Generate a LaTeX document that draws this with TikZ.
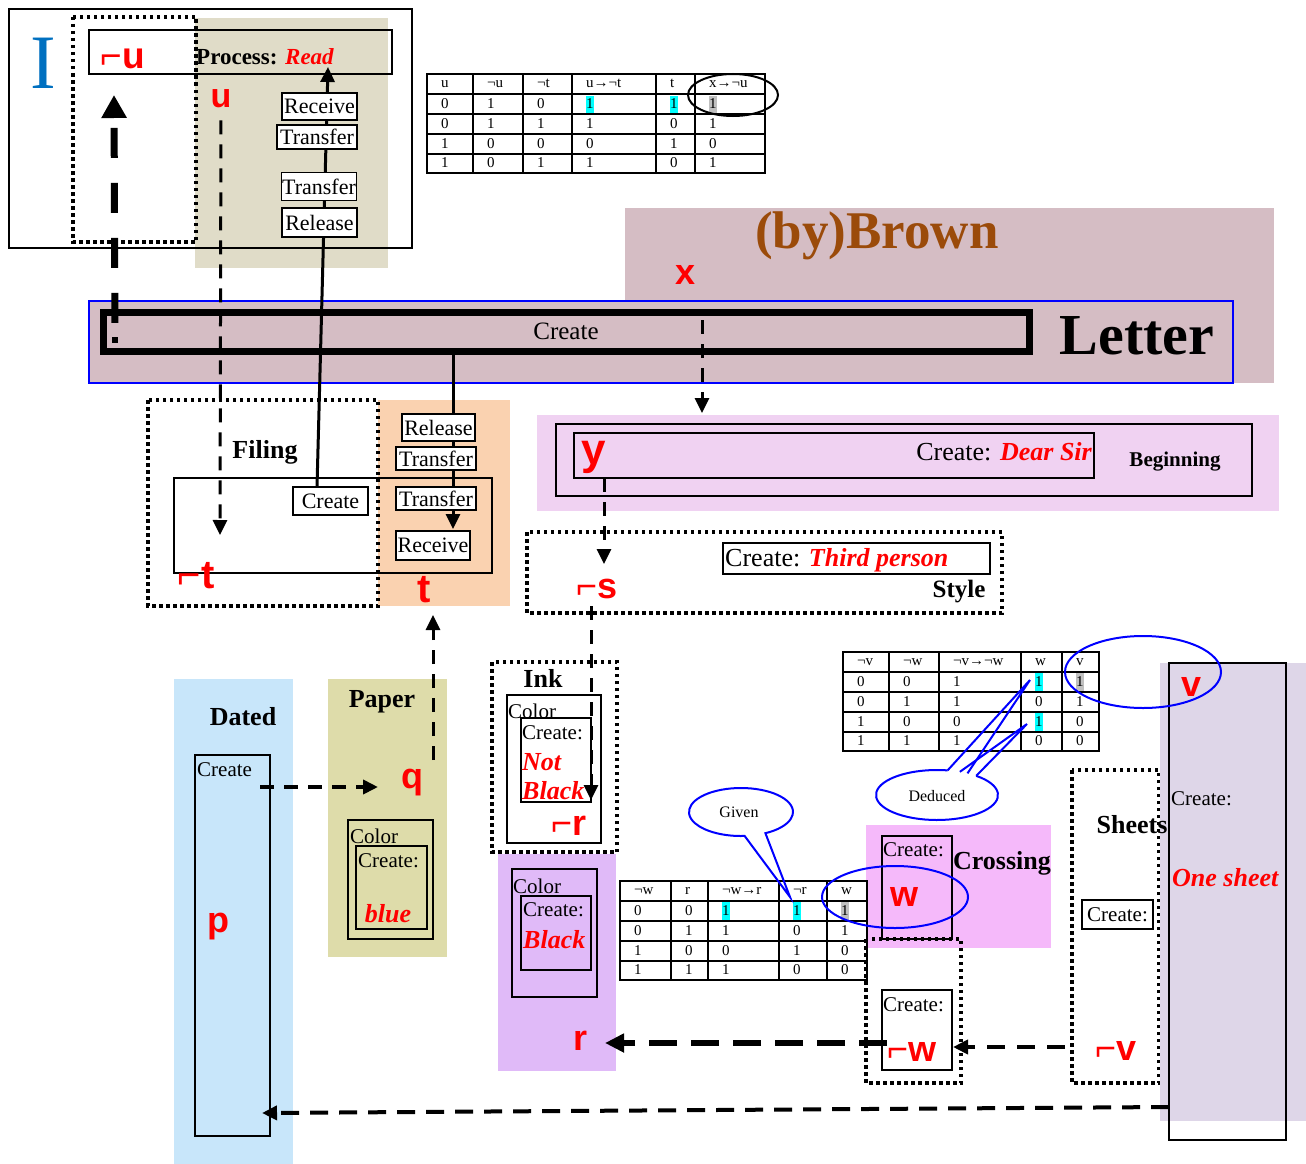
\documentclass[tikz,border=0pt]{standalone}
\usepackage{fontspec}
\setmainfont{Liberation Serif}
\newfontfamily\labfont{Liberation Sans}
\usetikzlibrary{arrows.meta,calc}
\pgfdeclarelayer{back}
\pgfdeclarelayer{wires}
\pgfsetlayers{back,wires,main}
\definecolor{tanbg}{RGB}{224,220,200}
\definecolor{brownbg}{RGB}{213,189,196}
\definecolor{peachbg}{RGB}{250,210,176}
\definecolor{pinkbg}{RGB}{240,210,242}
\definecolor{skybg}{RGB}{200,230,250}
\definecolor{paperbg}{RGB}{222,220,170}
\definecolor{purplebg}{RGB}{224,186,248}
\definecolor{crossbg}{RGB}{245,185,250}
\definecolor{lavbg}{RGB}{222,214,232}
\definecolor{iblue}{RGB}{0,112,192}
\definecolor{byc}{RGB}{155,75,10}
\definecolor{hcyan}{RGB}{0,255,255}
\definecolor{hgray}{RGB}{192,192,192}
\newcommand{\fsz}[1]{\fontsize{#1}{#1}\selectfont}
\tikzset{box/.style={draw, line width=1.6pt, fill=white, inner sep=0pt, font=\fsz{22}},
  frm/.style={draw, line width=1.6pt, inner sep=0pt},
  lbl/.style={text=red, inner sep=0pt, font=\labfont\bfseries\fsz{#1}}, lbl/.default=36,
  ttl/.style={inner sep=0pt, font=\bfseries\fsz{#1}}, ttl/.default=26,
  txt/.style={inner sep=0pt, anchor=west, font=\fsz{21}},
  redit/.style={text=red, inner sep=0pt, anchor=west, font=\bfseries\itshape\fsz{26}},
  dotbox/.style={draw, line width=3.5pt, dash pattern=on 3.5pt off 3.5pt},
  dasharr/.style={line width=3pt, dash pattern=on 14pt off 10pt, -{Triangle[length=15pt,width=14pt]}},
  bigdash/.style={line width=7pt, dash pattern=on 30pt off 25pt, -{Triangle[length=23pt,width=24pt]}},
  solarr/.style={line width=3pt, -{Triangle[length=15pt,width=14pt]}},
  tabline/.style={line width=2.2pt},
  cell/.style={anchor=west, inner sep=0pt, font=\fsz{15}},
  bluering/.style={draw=blue, line width=2pt}}

\begin{document}
\begin{tikzpicture}[x=1pt,y=-1pt]
\useasboundingbox (0,0) rectangle (1306,1164);

\begin{pgfonlayer}{back}
\fill[tanbg] (195,18) rectangle (388,268);
\fill[brownbg] (625,208) rectangle (1274,383);
\node[draw=blue, line width=1.5pt, fill=brownbg, minimum width=1144, minimum height=82] (letterbox) at (661,342) {};
\fill[peachbg] (378,400) rectangle (510,606);
\fill[pinkbg] (537,415) rectangle (1279,511);
\fill[skybg] (174,679) rectangle (293,1164);
\fill[paperbg] (328,679) rectangle (447,957);
\fill[purplebg] (498,854) rectangle (616,1071);
\fill[crossbg] (866,825) rectangle (1051,948);
\draw[dotbox] (1072,770) rectangle (1159,1083);
\fill[lavbg] (1160,663) rectangle (1306,1121);
\end{pgfonlayer}

% I block
\node[frm, minimum width=403, minimum height=239] (ibox) at (210.5,128.5) {};
\draw[dotbox] (73,17) rectangle (196,242);
\node[frm, minimum width=303, minimum height=44] (proc) at (240.5,52) {};
\node[inner sep=0pt, text=iblue, font=\fsz{77}] (I) at (43,63) {I};
\node[lbl=37] (nu) at (123,59) {⌐u};
\node[inner sep=0pt, anchor=west] (ptxt) at (196,57) {\bfseries\fsz{23}Process: {\itshape\color{red}Read}};
\node[lbl=34] (u) at (221,99) {u};
\node[box, minimum width=75, minimum height=27] (rcv1) at (319.5,106.5) {Receive};
\node[box, minimum width=80, minimum height=24] (trf1) at (317,137) {Transfer};
\node[box, minimum width=75, minimum height=28] (trf2) at (319,186.5) {Transfer};
\node[box, minimum width=75, minimum height=29] (rel1) at (319.5,222.5) {Release};

% Letter
\node[inner sep=0pt, text=byc, font=\bfseries\fsz{53}] (by) at (877,236) {(by)Brown};
\node[lbl] (x) at (686,275) {x};
\node[draw, line width=7pt, minimum width=926, minimum height=39, font=\fsz{25}] (create) at (566,331.5) {Create};
\node[fill, inner sep=0pt, minimum size=6] (dot) at (115,340) {};
\node[inner sep=0pt, font=\bfseries\fsz{58}] (letter) at (1137,336) {Letter};

% Filing
\draw[dotbox] (148,400) rectangle (378,606);
\node[frm, minimum width=318, minimum height=95] (filebox) at (333,525.5) {};
\node[ttl] (filing) at (265,452) {Filing};
\node[box, minimum width=75, minimum height=28] (fcreate) at (330.5,501) {Create};
\node[box, minimum width=73, minimum height=27] (rel2) at (438.5,427.5) {Release};
\node[box, minimum width=80, minimum height=23] (trf3) at (436,458.5) {Transfer};
\node[box, minimum width=80, minimum height=23] (trf4) at (436,498.5) {Transfer};
\node[box, minimum width=74, minimum height=29] (rcv2) at (433,545.5) {Receive};
\node[lbl=40] (nt) at (196,576) {⌐t};
\node[lbl=40] (t) at (424,590) {t};

% Beginning
\node[frm, minimum width=696, minimum height=72] (begbox) at (904,460) {};
\node[frm, minimum width=520, minimum height=45] (dearbox) at (834,455.5) {};
\node[inner sep=0pt, anchor=east] (dear) at (1092,452) {\fsz{26}Create: {\bfseries\itshape\color{red}Dear Sir}};
\node[ttl=21] (beg) at (1175,462) {Beginning};
\node[lbl=44] (y) at (594,457) {y};

% Style
\draw[dotbox] (527,532) rectangle (1002,613);
\node[frm, minimum width=267, minimum height=31] (thirdbox) at (856.5,558.5) {};
\node[inner sep=0pt, anchor=west] (third) at (725,560) {\fsz{26}Create: {\bfseries\itshape\color{red}Third person}};
\node[ttl=25] (style) at (959,592) {Style};
\node[lbl] (ns) at (597,589) {⌐s};

% Ink
\draw[dotbox] (492,662) rectangle (617,852);
\node[ttl] (ink) at (543,678) {Ink};
\node[frm, minimum width=94, minimum height=148] (inkcol) at (554,769) {};
\node[frm, minimum width=70, minimum height=84] (inkcr) at (556,760) {};
\node[txt] (inkc) at (508,711) {Color};
\node[txt] (inkk) at (522,733) {Create:};
\node[redit] (inknot) at (522,762) {Not};
\node[redit] (inkblk) at (522,791) {Black};
\node[lbl] (nr) at (569,826) {⌐r};

% Black
\node[frm, minimum width=85, minimum height=128] (blkcol) at (554.5,933) {};
\node[frm, minimum width=70, minimum height=74] (blkcr) at (556,933) {};
\node[txt] (blkc) at (513,886) {Color};
\node[txt] (blkk) at (523,910) {Create:};
\node[redit] (blkb) at (523,940) {Black};
\node[lbl] (r) at (580,1041) {r};

% Paper
\node[ttl] (paper) at (382,702) {Paper};
\node[lbl] (q) at (412,783) {q};
\node[frm, minimum width=85, minimum height=119] (papcol) at (390.5,879.5) {};
\node[frm, minimum width=71, minimum height=83] (papcr) at (391.5,887.5) {};
\node[txt] (papc) at (350,836) {Color};
\node[txt] (papk) at (358,861) {Create:};
\node[redit, anchor=center] (blue) at (388,914) {blue};

% Dated
\node[ttl] (dated) at (243,717) {Dated};
\node[frm, minimum width=75, minimum height=381] (datbox) at (232.5,945.5) {};
\node[txt] (datc) at (197,770) {Create};
\node[lbl] (p) at (218,927) {p};

% Crossing
\node[frm, minimum width=70, minimum height=103] (crbox) at (917,887.5) {};
\node[txt] (crk) at (883,850) {Create:};
\node[lbl] (w) at (904,897) {w};
\node[ttl] (crossing) at (1002,863) {Crossing};
\draw[dotbox] (866,939) rectangle (961,1083);
\node[frm, minimum width=70, minimum height=80] (nwbox) at (917,1030) {};
\node[txt] (nwk) at (883,1005) {Create:};
\node[lbl] (nw) at (912,1052) {⌐w};

% Sheets
\node[ttl] (sheets) at (1132,825) {Sheets};
\node[box, font=\fsz{21}, minimum width=71, minimum height=29] (shk) at (1117.5,914.5) {Create:};
\node[lbl] (nv) at (1116,1051) {⌐v};
\node[frm, minimum width=117, minimum height=477] (onebox) at (1227.5,901.5) {};
\node[txt] (onek) at (1171,799) {Create:};
\node[redit] (one) at (1172,878) {One sheet};
\node[lbl] (v) at (1191,687) {v};

% tables
\foreach \x in {473,523,572,656,695} \draw[tabline] (\x,74) -- (\x,173);
\foreach \y in {94,114,134,154} \draw[tabline] (427,\y) -- (765,\y);
\draw[tabline] (427,74) rectangle (765,173);
\fill[hcyan] (586,96) rectangle (594,113);
\fill[hcyan] (670,96) rectangle (678,113);
\fill[hgray] (709,96) rectangle (717,113);
\foreach \row [count=\r] in {{u,¬u,¬t,u→¬t,t,x→¬u},{0,1,0,1,1,1},{0,1,1,1,0,1},{1,0,0,0,1,0},{1,0,1,1,0,1}}
  \foreach \v [count=\c] in \row {
    \pgfmathsetmacro\cx{{427,473,523,572,656,695}[\c-1]+14}
    \node[cell] (ta-\r-\c) at (\cx,{64+19.8*\r}) {\v};
  }

\foreach \x in {889,939,1021,1062} \draw[tabline] (\x,652) -- (\x,751);
\foreach \y in {672,692,712,732} \draw[tabline] (843,\y) -- (1099,\y);
\draw[tabline] (843,652) rectangle (1099,751);
\fill[hcyan] (1035,673) rectangle (1043,691);
\fill[hgray] (1076,673) rectangle (1084,691);
\fill[hcyan] (1035,713) rectangle (1043,731);
\foreach \row [count=\r] in {{¬v,¬w,¬v→¬w,w,v},{0,0,1,1,1},{0,1,1,0,1},{1,0,0,1,0},{1,1,1,0,0}}
  \foreach \v [count=\c] in \row {
    \pgfmathsetmacro\cx{{843,889,939,1021,1062}[\c-1]+14}
    \node[cell] (tb-\r-\c) at (\cx,{642+19.8*\r}) {\v};
  }

\foreach \x in {671,708,779,827} \draw[tabline] (\x,881) -- (\x,980);
\foreach \y in {901,921,941,961} \draw[tabline] (620,\y) -- (867,\y);
\draw[tabline] (620,881) rectangle (867,980);
\fill[hcyan] (722,902) rectangle (730,920);
\fill[hcyan] (793,902) rectangle (801,920);
\fill[hgray] (841,902) rectangle (849,920);
\foreach \row [count=\r] in {{¬w,r,¬w→r,¬r,w},{0,0,1,1,1},{0,1,1,0,1},{1,0,0,1,0},{1,1,1,0,0}}
  \foreach \v [count=\c] in \row {
    \pgfmathsetmacro\cx{{620,671,708,779,827}[\c-1]+14}
    \node[cell] (tc-\r-\c) at (\cx,{871+19.8*\r}) {\v};
  }

% rings and callouts
\draw[line width=2pt] (733,95) ellipse [x radius=45, y radius=21];
\draw[bluering] (1143,672) ellipse [x radius=78, y radius=36];
\draw[bluering] (895,897) ellipse [x radius=73, y radius=31];
\coordinate (gv) at (741,812);
\coordinate (gvtip) at (790,897);
\node[inner sep=0pt, font=\fsz{16}] (given) at (739,812) {Given};
\draw[bluering] ($(gv)+(62:52 and 24)$) arc [start angle=62, end angle=-274, x radius=52, y radius=24] -- (gvtip) -- cycle;
\coordinate (dd) at (937,795);
\coordinate (ddtip1) at (1030,680);
\coordinate (ddtip2) at (1027,724);
\node[inner sep=0pt, font=\fsz{16}] (deduced) at (937,796) {Deduced};
\draw[bluering] ($(dd)+(-50:61 and 25)$) arc [start angle=-50, end angle=280, x radius=61, y radius=25];
\draw[bluering] ($(dd)+(-80:61 and 25)$) -- (ddtip1) -- ($(dd)+(-60:61 and 25)$);
\draw[bluering] ($(dd)+(-68:61 and 25)$) -- (ddtip2) -- ($(dd)+(-50:61 and 25)$);

% connectors
\begin{pgfonlayer}{wires}
\coordinate (nutip) at (114,95);
\draw[bigdash, shorten <=14pt] (dot) -- (nutip);
\coordinate (ut) at (220,535);
\draw[dasharr, shorten <=12pt] (u.south) -- (ut);
\coordinate (fctop) at (317,487);
\coordinate (prtip) at (328,67);
\draw[solarr] (fctop) -- (prtip);
\coordinate (cbot) at (453,351);
\coordinate (rtip) at (453,529);
\draw[solarr] (cbot) -- (rtip);
\coordinate (xs) at (702,320);
\coordinate (xt) at (702,413);
\draw[dasharr] (xs) -- (xt);
\coordinate (ys) at (604,478);
\coordinate (yt) at (604,564);
\draw[dasharr] (ys) -- (yt);
\coordinate (ss) at (591,606);
\coordinate (st) at (591,800);
\draw[dasharr] (ss) -- (st);
\coordinate (qs) at (433,760);
\coordinate (qt) at (433,615);
\draw[dasharr] (qs) -- (qt);
\coordinate (ds) at (260,787);
\coordinate (dt) at (378,787);
\draw[dasharr, line width=4pt] (ds) -- (dt);
\coordinate (ws) at (887,1043);
\coordinate (wt) at (605,1043);
\draw[line width=6pt, dash pattern=on 28pt off 14pt, -{Triangle[length=19pt,width=18pt]}] (ws) -- (wt);
\coordinate (vs) at (1065,1047);
\coordinate (vt) at (953,1047);
\draw[dasharr, line width=4pt, dash pattern=on 18pt off 12pt] (vs) -- (vt);
\coordinate (os) at (1169,1107);
\coordinate (ot) at (262,1113);
\draw[dasharr, line width=4pt, dash pattern=on 18pt off 11pt] (os) -- (ot);
\end{pgfonlayer}

\end{tikzpicture}
\end{document}
